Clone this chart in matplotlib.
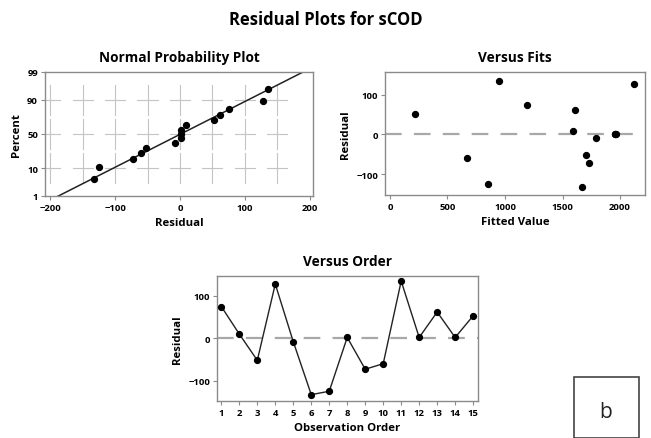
import numpy as np
import matplotlib
matplotlib.use("Agg")
import matplotlib.pyplot as plt
from matplotlib.patches import Rectangle
from statistics import NormalDist

# ---- data ----
order = list(range(1, 16))
residuals = [75, 10, -52, 128, -8, -133, -125, 2, -73, -60, 135, 2, 62, 2, 53]
fitted = [1190, 1590, 1700, 2120, 1790, 1670, 850, 1955, 1730, 670, 950, 1965, 1610, 1960, 220]
pct_ticks = [1, 10, 50, 90, 99]
npp_xticks = [-200, -100, 0, 100, 200]
fit_xticks = [0, 500, 1000, 1500, 2000]
res_ticks = [-100, 0, 100]
grid_x = [-200, -150, -100, -50, 0, 50, 100, 150]
grid_p = [10, 50, 90]

plt.rcParams['font.family'] = ['Open Sans', 'DejaVu Sans']
W, H = 651, 439
fig = plt.figure(figsize=(W / 100, H / 100), dpi=100)

def ax_px(l, t, r, b):
    return fig.add_axes([l / W, 1 - b / H, (r - l) / W, (b - t) / H])

nd = NormalDist()
def fwd(p):
    p = np.clip(np.asarray(p, dtype=float), 1e-6, 100 - 1e-6)
    return np.array([nd.inv_cdf(v / 100) for v in p.ravel()]).reshape(p.shape)
def inv(z):
    z = np.asarray(z, dtype=float)
    return np.array([nd.cdf(v) * 100 for v in z.ravel()]).reshape(z.shape)

frame_c = '#8a8a8a'
grid_c = '#c4c4c4'
tick_fs = 6.8
lab_fs = 8.2
title_fs = 9.8

def style(ax):
    for s in ax.spines.values():
        s.set_color(frame_c)
        s.set_linewidth(1.0)
    ax.tick_params(length=3, width=0.8, color=frame_c, labelsize=tick_fs, pad=2)
    for lab in ax.get_xticklabels() + ax.get_yticklabels():
        lab.set_fontweight('bold')

fig.text(0.5, 1 - 20 / H, 'Residual Plots for sCOD', ha='center', va='center',
         fontsize=12, fontweight='bold')

# ---- Normal probability plot ----
ax1 = ax_px(45, 73, 313, 197)
ax1.set_yscale('function', functions=(fwd, inv))
srt = np.sort(residuals)
n = len(srt)
pp = (np.arange(1, n + 1) - 0.3) / (n + 0.4) * 100
mu = np.mean(residuals)
sd = np.std(residuals, ddof=1)
xs = np.linspace(-260, 260, 200)
# Minitab-style cross grid: segments centred on the grid intersections
hx = 15.5    # half length of horizontal dashes (data units)
hz = 0.55    # half length of vertical dashes (normal-score units)
for gp in grid_p:
    for gx in grid_x:
        ax1.plot([gx - hx, gx + hx], [gp, gp], color=grid_c, lw=0.8, zorder=0)
for gx in grid_x:
    for gp in grid_p:
        z0 = nd.inv_cdf(gp / 100)
        ax1.plot([gx, gx], [nd.cdf(z0 - hz) * 100, nd.cdf(z0 + hz) * 100],
                 color=grid_c, lw=0.8, zorder=0)
ax1.plot(xs, inv((xs - mu) / sd), color='#222222', lw=1.1, zorder=2)
ax1.scatter(srt, pp, s=18, color='black', zorder=3)
ax1.set_xticks(npp_xticks)
ax1.set_yticks(pct_ticks)
ax1.set_yticklabels([str(v) for v in pct_ticks])
ax1.yaxis.set_minor_locator(matplotlib.ticker.NullLocator())
ax1.set_xlim(-208, 205)
ax1.set_ylim(1, 99)
ax1.set_title('Normal Probability Plot', fontsize=title_fs, fontweight='bold', pad=8)
ax1.set_xlabel('Residual', fontsize=lab_fs, fontweight='bold', labelpad=4)
ax1.set_ylabel('Percent', fontsize=lab_fs, fontweight='bold', labelpad=4)
style(ax1)

# ---- Versus fits ----
ax2 = ax_px(385, 73, 645, 196)
ax2.set_xlim(-43, 2217)
ax2.set_ylim(-153, 158)
ax2.axhline(0, color='#a8a8a8', lw=1.6, ls=(0, (7.5, 5.5)), zorder=1)
ax2.scatter(fitted, residuals, s=18, color='black', zorder=3)
ax2.set_xticks(fit_xticks)
ax2.set_yticks(res_ticks)
ax2.set_title('Versus Fits', fontsize=title_fs, fontweight='bold', pad=8)
ax2.set_xlabel('Fitted Value', fontsize=lab_fs, fontweight='bold', labelpad=4)
ax2.set_ylabel('Residual', fontsize=lab_fs, fontweight='bold', labelpad=4)
style(ax2)

# ---- Versus order ----
ax3 = ax_px(217, 277, 478, 402)
ax3.set_xlim(0.76, 15.27)
ax3.set_ylim(-148, 147)
ax3.axhline(0, color='#a8a8a8', lw=1.6, ls=(0, (7.5, 5.5)), zorder=1)
ax3.plot(order, residuals, color='#222222', lw=1.0, marker='o', ms=4.2,
         mfc='black', mec='black', zorder=3)
ax3.set_xticks(order)
ax3.set_yticks(res_ticks)
ax3.set_title('Versus Order', fontsize=title_fs, fontweight='bold', pad=8)
ax3.set_xlabel('Observation Order', fontsize=lab_fs, fontweight='bold', labelpad=4)
ax3.set_ylabel('Residual', fontsize=lab_fs, fontweight='bold', labelpad=4)
style(ax3)

# ---- panel label box ----
fig.patches.append(Rectangle((574 / W, 0), (639 - 574) / W, (H - 382) / H + 0.01,
                             transform=fig.transFigure, fill=False,
                             edgecolor='#444444', lw=1.2))
fig.text(606 / W, 1 - 413 / H, 'b', ha='center', va='center', fontsize=15,
         color='#222222')

fig.savefig('out.png', dpi=100)
